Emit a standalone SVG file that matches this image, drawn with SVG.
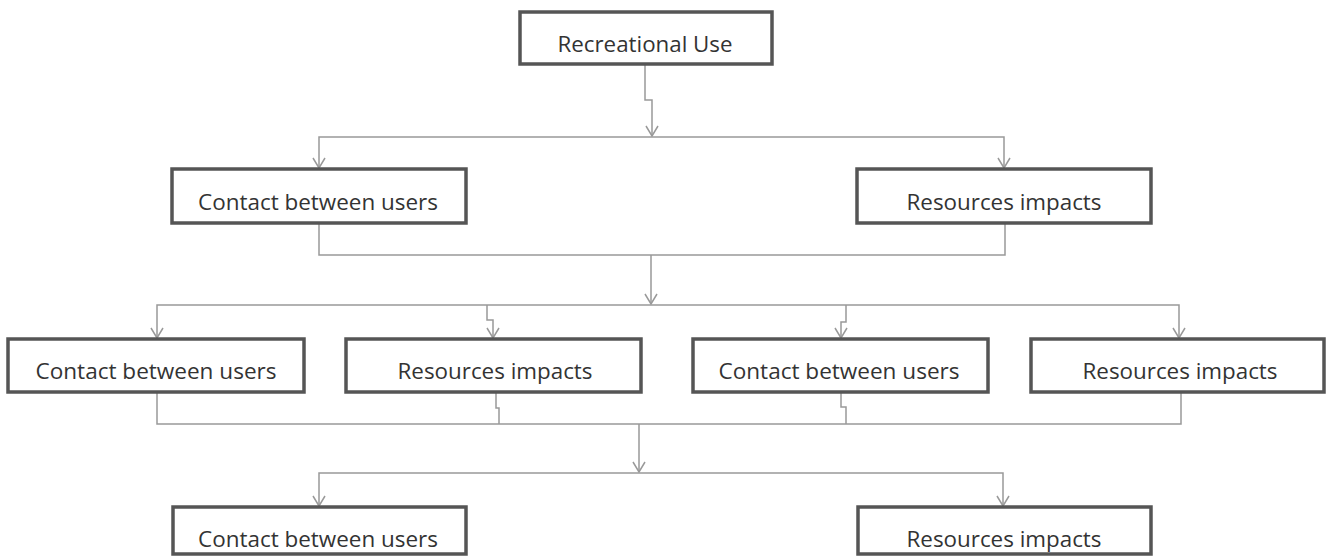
<svg xmlns="http://www.w3.org/2000/svg" width="1326" height="556" viewBox="0 0 1326 556">
<style>
.box{fill:#fff;stroke:#555;stroke-width:3.5}
.lbl{font-family:"Open Sans","Noto Sans","Liberation Sans",sans-serif;font-size:21.5px;fill:#333;text-anchor:middle}
.c{fill:none;stroke:#999;stroke-width:1.5}
</style>
<defs>
<marker id="ah" markerUnits="userSpaceOnUse" viewBox="0 0 12 14" refX="11" refY="7" markerWidth="12" markerHeight="14" orient="auto">
<path d="M1,1 L11,7 L1,13" fill="none" stroke="#999" stroke-width="1.5"/>
</marker>
</defs>
<rect width="1326" height="556" fill="#fff"/>
<g id="connectors">
<path class="c" d="M645,65 V100 H652 V136" marker-end="url(#ah)"/>
<path class="c" d="M652,137 H319 V168" marker-end="url(#ah)"/>
<path class="c" d="M652,137 H1004 V168" marker-end="url(#ah)"/>
<path class="c" d="M319,224 V255 H1005 V224"/>
<path class="c" d="M651,255 V304" marker-end="url(#ah)"/>
<path class="c" d="M651,305 H157 V338" marker-end="url(#ah)"/>
<path class="c" d="M651,305 H1179 V338" marker-end="url(#ah)"/>
<path class="c" d="M487,305 V320 H493 V338" marker-end="url(#ah)"/>
<path class="c" d="M846,305 V322 H841 V338" marker-end="url(#ah)"/>
<path class="c" d="M157,393 V424 H1181 V393"/>
<path class="c" d="M496,393 V408 H499 V424"/>
<path class="c" d="M841,393 V407 H846 V424"/>
<path class="c" d="M639,424 V472" marker-end="url(#ah)"/>
<path class="c" d="M639,473 H319 V506" marker-end="url(#ah)"/>
<path class="c" d="M639,473 H1003 V506" marker-end="url(#ah)"/>
</g>
<g id="n-recreational">
<rect class="box" x="520" y="12" width="252" height="52"/>
<text class="lbl" x="645" y="52" textLength="175" lengthAdjust="spacingAndGlyphs">Recreational Use</text>
</g>
<g id="n-contact-2">
<rect class="box" x="172" y="169" width="294" height="54"/>
<text class="lbl" x="318" y="210" textLength="240" lengthAdjust="spacingAndGlyphs">Contact between users</text>
</g>
<g id="n-resources-2">
<rect class="box" x="857" y="169" width="294" height="54"/>
<text class="lbl" x="1004" y="210" textLength="195" lengthAdjust="spacingAndGlyphs">Resources impacts</text>
</g>
<g id="n-contact-3a">
<rect class="box" x="8" y="339" width="296" height="53"/>
<text class="lbl" x="156" y="379" textLength="241" lengthAdjust="spacingAndGlyphs">Contact between users</text>
</g>
<g id="n-resources-3a">
<rect class="box" x="346" y="339" width="295" height="53"/>
<text class="lbl" x="495" y="379" textLength="195" lengthAdjust="spacingAndGlyphs">Resources impacts</text>
</g>
<g id="n-contact-3b">
<rect class="box" x="693" y="339" width="295" height="53"/>
<text class="lbl" x="839" y="379" textLength="241" lengthAdjust="spacingAndGlyphs">Contact between users</text>
</g>
<g id="n-resources-3b">
<rect class="box" x="1031" y="339" width="293" height="53"/>
<text class="lbl" x="1180" y="379" textLength="195" lengthAdjust="spacingAndGlyphs">Resources impacts</text>
</g>
<g id="n-contact-4">
<rect class="box" x="173" y="507" width="293" height="47"/>
<text class="lbl" x="318" y="547" textLength="240" lengthAdjust="spacingAndGlyphs">Contact between users</text>
</g>
<g id="n-resources-4">
<rect class="box" x="858" y="507" width="293" height="47"/>
<text class="lbl" x="1004" y="547" textLength="195" lengthAdjust="spacingAndGlyphs">Resources impacts</text>
</g>
</svg>
